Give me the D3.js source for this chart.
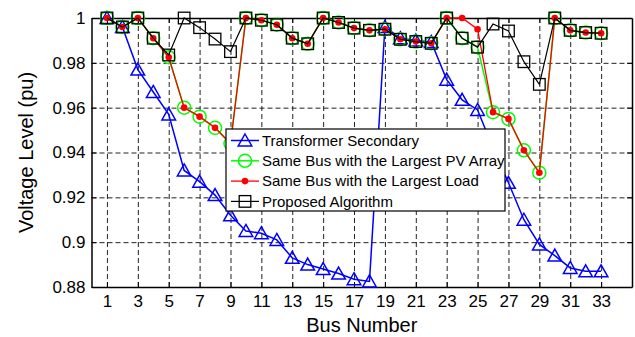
<!DOCTYPE html>
<html><head><meta charset="utf-8">
<script src="https://cdn.jsdelivr.net/npm/d3@7"></script>
<style>
body{margin:0;background:#fff;}
svg{display:block;font-family:"Liberation Sans",Arial,sans-serif;}
</style></head>
<body><svg id="c" width="635" height="337"></svg>
<script>
const buses = [1,2,3,4,5,6,7,8,9,10,11,12,13,14,15,16,17,18,19,20,21,22,23,24,25,26,27,28,29,30,31,32,33];
const transformerSecondary = [1.000,0.996,0.977,0.967,0.957,0.932,0.927,0.921,0.912,0.905,0.904,0.901,0.893,0.890,0.888,0.886,0.8835,0.8825,0.996,0.991,0.990,0.9893,0.9725,0.9635,0.959,0.942,0.9265,0.910,0.899,0.894,0.8885,0.887,0.887];
const largestPV = [1.000,0.996,1.000,0.991,0.9825,0.960,0.956,0.951,0.944,1.000,0.999,0.997,0.991,0.9885,1.000,0.998,0.9955,0.9945,0.995,0.9905,0.9895,0.9887,1.000,0.991,0.987,0.958,0.955,0.941,0.931,1.000,0.9945,0.9935,0.9932];
const largestLoad = [1.000,0.996,1.000,0.991,0.9825,0.960,0.956,0.951,0.944,1.000,0.999,0.997,0.991,0.9885,1.000,0.998,0.9955,0.9945,0.995,0.9905,0.9895,0.9887,1.000,1.000,0.995,0.958,0.955,0.941,0.931,1.000,0.9945,0.9935,0.9932];
const proposed = [1.000,0.996,1.000,0.991,0.9835,1.000,0.9957,0.9906,0.985,1.000,0.999,0.997,0.991,0.9885,1.000,0.998,0.9955,0.9945,0.995,0.9905,0.9895,0.9887,1.000,0.991,0.987,0.9973,0.9942,0.9805,0.9704,1.000,0.9945,0.9935,0.9932];
const xTicks = [1,3,5,7,9,11,13,15,17,19,21,23,25,27,29,31,33];
const yTicks = [0.88,0.9,0.92,0.94,0.96,0.98,1];
const yTickLabels = ["0.88","0.9","0.92","0.94","0.96","0.98","1"];
const legendLabels = ["Transformer Secondary","Same Bus with the Largest PV Array","Same Bus with the Largest Load","Proposed Algorithm"];

const L=91.5, R=632, T=18, B=287;
const svg = d3.select("#c");
const x = d3.scaleLinear().domain([0,35]).range([L,R]);
const y = d3.scaleLinear().domain([0.88,1.0]).range([B,T]);

// grid
const gx = svg.append("g").attr("transform",`translate(0,${B})`)
  .call(d3.axisBottom(x).tickValues(xTicks).tickSize(-(B-T)).tickFormat(""));
const gy = svg.append("g").attr("transform",`translate(${L},0)`)
  .call(d3.axisLeft(y).tickValues(yTicks).tickSize(-(R-L)).tickFormat(""));
[gx,gy].forEach(g=>{
  g.select(".domain").remove();
  g.selectAll(".tick line").attr("stroke","#222").attr("stroke-width",1).attr("stroke-dasharray","5,3");
});

// axes with inward ticks
const fmt = d=>yTickLabels[yTicks.indexOf(d)];
const ab = svg.append("g").attr("transform",`translate(0,${B})`)
  .call(d3.axisBottom(x).tickValues(xTicks).tickSize(-5).tickPadding(8).tickSizeOuter(0));
const at = svg.append("g").attr("transform",`translate(0,${T})`)
  .call(d3.axisTop(x).tickValues(xTicks).tickSize(-5).tickFormat("").tickSizeOuter(0));
const al = svg.append("g").attr("transform",`translate(${L},0)`)
  .call(d3.axisLeft(y).tickValues(yTicks).tickSize(-5).tickPadding(6).tickFormat(fmt).tickSizeOuter(0));
const ar = svg.append("g").attr("transform",`translate(${R},0)`)
  .call(d3.axisRight(y).tickValues(yTicks).tickSize(-5).tickFormat("").tickSizeOuter(0));
[ab,at,al,ar].forEach(g=>{
  g.select(".domain").attr("stroke","#000").attr("stroke-width",1.5);
  g.selectAll(".tick line").attr("stroke","#000").attr("stroke-width",1);
  g.selectAll("text").attr("fill","#000").style("font-size","17px").style("font-family","'Liberation Sans',Arial,sans-serif");
});

svg.append("text").attr("x",(L+R)/2).attr("y",332).attr("text-anchor","middle")
  .style("font-size","20px").text("Bus Number");
svg.append("text").attr("transform",`translate(33,${(T+B)/2}) rotate(-90)`).attr("text-anchor","middle")
  .style("font-size","20px").text("Voltage Level (pu)");

// markers
const triPath = "M0,-6.5L6.8,5.5L-6.8,5.5Z";
function drawMarker(g, type, cx, cy){
  if(type==="tri") g.append("path").attr("d",triPath).attr("transform",`translate(${cx},${cy})`)
      .attr("fill","none").attr("stroke","#0000ff").attr("stroke-width",1.5);
  else if(type==="circ") g.append("circle").attr("cx",cx).attr("cy",cy).attr("r",6.5)
      .attr("fill","none").attr("stroke","#00ff00").attr("stroke-width",1.5);
  else if(type==="dot") g.append("circle").attr("cx",cx).attr("cy",cy).attr("r",3.3)
      .attr("fill","#ff0000");
  else if(type==="sq") g.append("rect").attr("x",cx-5.8).attr("y",cy-5.8).attr("width",11.6).attr("height",11.6)
      .attr("fill","none").attr("stroke","#000").attr("stroke-width",1.3);
}
const series = [
  {vals:transformerSecondary, color:"#0000ff", m:"tri", w:1.5},
  {vals:largestPV, color:"#00ff00", m:"circ", w:1.5},
  {vals:largestLoad, color:"#ff0000", m:"dot", w:1.3},
  {vals:proposed, color:"#000000", m:"sq", w:1.2}
];
const line = d3.line().x(d=>x(d[0])).y(d=>y(d[1]));
series.forEach(s=>{
  const g = svg.append("g");
  const pts = buses.map((b,i)=>[b,s.vals[i]]);
  g.append("path").attr("d",line(pts)).attr("fill","none").attr("stroke",s.color).attr("stroke-width",s.w);
  pts.forEach(p=>drawMarker(g,s.m,x(p[0]),y(p[1])));
});

// legend
const lg = svg.append("g");
lg.append("rect").attr("x",226).attr("y",129).attr("width",279).attr("height",82)
  .attr("fill","#fff").attr("stroke","#000").attr("stroke-width",1.2);
legendLabels.forEach((t,i)=>{
  const cy = 140.5 + i*20.3;
  lg.append("line").attr("x1",231).attr("x2",259).attr("y1",cy).attr("y2",cy)
    .attr("stroke",series[i].color).attr("stroke-width",series[i].w);
  drawMarker(lg, series[i].m, 245, cy);
  lg.append("text").attr("x",262).attr("y",cy).attr("dy","0.35em").style("font-size","15px").text(t);
});
</script></body></html>
